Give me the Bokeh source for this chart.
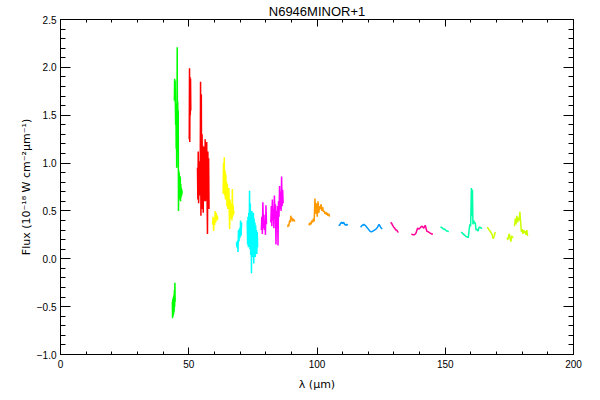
from bokeh.plotting import figure
from bokeh.models import FixedTicker, LinearAxis, CustomJSTickFormatter
from bokeh.embed import file_html
from bokeh.resources import INLINE

# ---------------- data ----------------
green1_x = [43.6, 43.7, 43.8, 43.9, 44.0, 44.1, 44.2, 44.3, 44.4, 44.5, 44.6, 44.7]
green1_y = [-0.45, -0.62, -0.42, -0.60, -0.40, -0.58, -0.38, -0.55, -0.33, -0.50, -0.25, -0.45]

green2_x = [44.4, 44.5, 44.6, 44.7, 44.8, 44.9, 45.0, 45.1, 45.2, 45.3, 45.4, 45.5, 45.6, 45.7,
            45.8, 45.9, 46.0, 46.1, 46.2, 46.3, 46.4, 46.5, 46.6, 46.7, 46.8, 46.9, 47.0, 47.1,
            47.2, 47.3, 47.4]
green2_y = [1.65, 1.88, 1.66, 1.86, 1.60, 1.40, 1.62, 1.15, 1.45, 0.95, 1.30, 2.21, 1.15, 1.64,
            1.20, 1.55, 0.50, 0.92, 0.72, 0.90, 0.62, 0.82, 0.66, 0.86, 0.60, 0.78, 0.64, 0.74,
            0.66, 0.72, 0.68]

red1_x = [50.2, 50.3, 50.4, 50.5, 50.6, 50.7, 50.8]
red1_y = [1.25, 1.99, 1.22, 1.90, 1.50, 1.88, 1.55]

red2_x = [53.4, 53.55, 53.7, 53.85, 54.0, 54.15, 54.3, 54.45, 54.6, 54.75, 54.9, 55.05, 55.2,
          55.35, 55.5, 55.65, 55.8, 55.95, 56.1, 56.25, 56.4, 56.55, 56.7, 56.85, 57.0, 57.15,
          57.3, 57.45, 57.6, 57.75, 57.9]
red2_y = [0.95, 0.62, 1.12, 0.58, 0.98, 0.70, 1.02, 0.66, 1.85, 0.45, 1.72, 0.52, 1.30, 0.62,
          1.18, 0.48, 1.05, 0.60, 1.17, 0.64, 1.25, 0.60, 1.10, 0.70, 1.22, 0.62, 0.26, 1.12,
          0.55, 1.05, 0.52]

yellow1_x = [59.3, 59.5, 59.7, 59.9, 60.1, 60.3, 60.5, 60.7, 60.9, 61.1, 61.3]
yellow1_y = [0.36, 0.44, 0.29, 0.42, 0.35, 0.50, 0.38, 0.48, 0.40, 0.45, 0.41]

yellow2_x = [63.4, 63.55, 63.7, 63.85, 64.0, 64.15, 64.3, 64.45, 64.6, 64.75, 64.9, 65.05, 65.2,
             65.35, 65.5, 65.65, 65.8, 65.95, 66.1, 66.25, 66.4, 66.55, 66.7, 66.85, 67.0, 67.15,
             67.3, 67.45, 67.6]
yellow2_y = [0.68, 1.00, 0.72, 1.06, 0.66, 0.92, 0.62, 0.88, 0.70, 0.80, 0.55, 0.78, 0.52, 0.72,
             0.60, 0.74, 0.48, 0.31, 0.62, 0.45, 0.58, 0.42, 0.55, 0.40, 0.73, 0.44, 0.56, 0.46,
             0.50]

cyan1_x = [68.6, 68.8, 69.0, 69.2, 69.4, 69.6, 69.8, 70.0, 70.2, 70.4, 70.6]
cyan1_y = [0.17, 0.12, 0.19, 0.07, 0.30, 0.18, 0.32, 0.22, 0.40, 0.24, 0.38]

cyan2_x = [72.8, 72.95, 73.1, 73.25, 73.4, 73.55, 73.7, 73.85, 74.0, 74.15, 74.3, 74.45, 74.6,
           74.75, 74.9, 75.05, 75.2, 75.35, 75.5, 75.65, 75.8, 75.95, 76.1, 76.25, 76.4, 76.55,
           76.7, 76.85]
cyan2_y = [0.40, 0.15, 0.44, 0.12, 0.48, 0.18, 0.71, 0.10, 0.58, 0.04, 0.45, -0.15, 0.50, 0.02,
           0.46, 0.08, 0.48, -0.05, 0.42, 0.10, 0.38, 0.02, 0.35, 0.10, 0.30, 0.05, 0.28, 0.12]

magenta1_x = [78.3, 78.5, 78.7, 78.9, 79.1, 79.3, 79.5, 79.7, 79.9, 80.1, 80.3]
magenta1_y = [0.30, 0.44, 0.26, 0.59, 0.32, 0.46, 0.30, 0.40, 0.25, 0.56, 0.36]

magenta2_x = [82.0, 82.2, 82.4, 82.6, 82.8, 83.0, 83.2, 83.4, 83.6, 83.8, 84.0, 84.2, 84.4, 84.6,
              84.8, 85.0, 85.2, 85.4, 85.6, 85.8, 86.0, 86.2, 86.4, 86.6, 86.8]
magenta2_y = [0.38, 0.55, 0.34, 0.62, 0.40, 0.52, 0.32, 0.66, 0.42, 0.57, 0.15, 0.50, 0.36, 0.55,
              0.14, 0.60, 0.44, 0.76, 0.52, 0.70, 0.50, 0.86, 0.55, 0.72, 0.58]

orange1_x = [88.6, 88.8, 89.0, 89.2, 89.4, 89.6, 89.8, 90.0, 90.2, 90.4, 90.6, 90.8, 91.0, 91.2, 91.4]
orange1_y = [0.33, 0.36, 0.34, 0.38, 0.40, 0.38, 0.45, 0.41, 0.43, 0.39, 0.42, 0.40, 0.41, 0.39, 0.40]

orange2_x = [96.8, 97.1, 97.4, 97.7, 98.0, 98.3, 98.6, 98.9, 99.2, 99.5, 99.8, 100.1, 100.4,
             100.7, 101.0, 101.3, 101.6, 101.9, 102.2, 102.5, 102.8, 103.1, 103.4, 103.7, 104.0,
             104.3, 104.6, 104.9]
orange2_y = [0.37, 0.35, 0.38, 0.36, 0.40, 0.38, 0.42, 0.39, 0.63, 0.47, 0.58, 0.44, 0.60, 0.48,
             0.55, 0.52, 0.57, 0.50, 0.54, 0.49, 0.50, 0.47, 0.49, 0.46, 0.48, 0.45, 0.47, 0.44]

blue1_x = [108.4, 108.8, 109.2, 109.6, 110.0, 110.4, 110.8, 111.2, 111.6, 112.0]
blue1_y = [0.35, 0.35, 0.37, 0.38, 0.37, 0.38, 0.36, 0.35, 0.36, 0.35]

blue2_x = [117.0, 117.6, 118.2, 118.8, 119.4, 120.0, 120.6, 121.2, 121.8, 122.4, 123.0, 123.6,
           124.2, 124.8, 125.4]
blue2_y = [0.33, 0.35, 0.36, 0.35, 0.33, 0.31, 0.29, 0.28, 0.29, 0.30, 0.31, 0.33, 0.36, 0.33, 0.31]

pink1_x = [128.7, 129.1, 129.5, 129.9, 130.3, 130.7, 131.1, 131.5, 131.8]
pink1_y = [0.38, 0.37, 0.35, 0.33, 0.32, 0.30, 0.30, 0.28, 0.28]

pink2_x = [136.8, 137.4, 138.0, 138.6, 139.2, 139.8, 140.4, 141.0, 141.6, 142.2, 142.8, 143.4,
           144.0, 144.6, 145.2]
pink2_y = [0.26, 0.25, 0.25, 0.27, 0.32, 0.31, 0.33, 0.34, 0.32, 0.35, 0.29, 0.28, 0.27, 0.26, 0.26]

aqua1_x = [148.1, 148.5, 148.9, 149.3, 149.7, 150.1, 150.5, 150.9, 151.3]
aqua1_y = [0.33, 0.33, 0.32, 0.31, 0.31, 0.30, 0.29, 0.29, 0.28]

aqua2_x = [156.2, 156.6, 157.0, 157.4, 157.8, 158.2, 158.6, 159.0, 159.3, 159.6, 159.9, 160.2,
           160.4, 160.6, 160.8, 161.1, 161.4, 161.7, 162.0, 162.4, 162.8, 163.2, 163.6, 164.0, 164.4]
aqua2_y = [0.28, 0.27, 0.26, 0.25, 0.24, 0.23, 0.23, 0.22, 0.30, 0.36, 0.34, 0.74, 0.45, 0.72,
           0.36, 0.40, 0.37, 0.38, 0.30, 0.31, 0.29, 0.33, 0.33, 0.32, 0.32]

ygreen1_x = [166.3, 166.7, 167.1, 167.5, 167.9, 168.3, 168.7, 169.1, 169.5]
ygreen1_y = [0.33, 0.32, 0.30, 0.29, 0.27, 0.25, 0.21, 0.24, 0.28]

ygreen2_x = [174.1, 174.4, 174.7, 175.0, 175.3, 175.6, 175.9, 176.2, 176.5]
ygreen2_y = [0.22, 0.20, 0.24, 0.26, 0.21, 0.18, 0.24, 0.22, 0.23]

ygreen3_x = [177.0, 177.3, 177.6, 177.9, 178.2, 178.5, 178.8, 179.1, 179.4, 179.7, 180.0, 180.3,
             180.6, 180.9, 181.2, 181.5, 181.8, 182.1]
ygreen3_y = [0.34, 0.42, 0.36, 0.45, 0.38, 0.43, 0.40, 0.49, 0.38, 0.28, 0.31, 0.26, 0.30, 0.27,
             0.29, 0.25, 0.30, 0.24]

x_ticks = [0, 50, 100, 150, 200]
x_tick_labels = ["0", "50", "100", "150", "200"]
y_ticks = [-1.0, -0.5, 0.0, 0.5, 1.0, 1.5, 2.0, 2.5]
y_tick_labels = ["\u22121.0", "\u22120.5", "0.0", "0.5", "1.0", "1.5", "2.0", "2.5"]

title_text = "N6946MINOR+1"
x_label = "\u03bb (\u03bcm)"
y_label = "Flux (10\u207b\u00b9\u2078 W cm\u207b\u00b2\u03bcm\u207b\u00b9)"

segments = [
    (green1_x, green1_y, "#00ff00"),
    (green2_x, green2_y, "#00ff00"),
    (red1_x, red1_y, "#ff0000"),
    (red2_x, red2_y, "#ff0000"),
    (yellow1_x, yellow1_y, "#ffff00"),
    (yellow2_x, yellow2_y, "#ffff00"),
    (cyan1_x, cyan1_y, "#00ffff"),
    (cyan2_x, cyan2_y, "#00ffff"),
    (magenta1_x, magenta1_y, "#ff00ff"),
    (magenta2_x, magenta2_y, "#ff00ff"),
    (orange1_x, orange1_y, "#ff9900"),
    (orange2_x, orange2_y, "#ff9900"),
    (blue1_x, blue1_y, "#0099ff"),
    (blue2_x, blue2_y, "#0099ff"),
    (pink1_x, pink1_y, "#ff0099"),
    (pink2_x, pink2_y, "#ff0099"),
    (aqua1_x, aqua1_y, "#00ffaa"),
    (aqua2_x, aqua2_y, "#00ffaa"),
    (ygreen1_x, ygreen1_y, "#ccff00"),
    (ygreen2_x, ygreen2_y, "#ccff00"),
    (ygreen3_x, ygreen3_y, "#ccff00"),
]

FONT = "Liberation Sans"
LABEL_FONT = "DejaVu Sans"

p = figure(
    frame_width=513, frame_height=335,
    x_range=(0, 200), y_range=(-1.0, 2.5),
    output_backend="svg", toolbar_location=None,
    title=title_text,
    min_border_left=60, min_border_right=19, min_border_top=10, min_border_bottom=30,
)
p.background_fill_color = "white"
p.border_fill_color = "white"
p.outline_line_color = "black"
p.outline_line_width = 1
p.grid.visible = False

p.title.align = "center"
p.title.text_font = FONT
p.title.text_font_size = "13px"
p.title.text_font_style = "normal"
p.title.text_color = "black"
p.title.standoff = 2
p.title.offset = 0

for xs, ys, c in segments:
    p.line(xs, ys, line_color=c, line_width=1.5)

def fmt(ticks, labels):
    return CustomJSTickFormatter(args=dict(t=ticks, l=labels), code="""
        for (let i = 0; i < t.length; i++) { if (Math.abs(t[i] - tick) < 1e-6) return l[i]; }
        return '';
    """)

blank = CustomJSTickFormatter(code="return '';")

x_minor = [v for v in range(0, 201, 10)]
y_minor = [round(-1.0 + 0.1 * i, 2) for i in range(36)]

def style(ax, ticks, minor, major_len, minor_len, show_labels, labels=None):
    ax.ticker = FixedTicker(ticks=ticks, minor_ticks=minor)
    ax.axis_line_color = "black"
    ax.major_tick_line_color = "black"
    ax.minor_tick_line_color = "black"
    ax.major_tick_in = major_len
    ax.major_tick_out = 0
    ax.minor_tick_in = minor_len
    ax.minor_tick_out = 0
    ax.major_label_text_font = FONT
    ax.major_label_text_font_size = "10px"
    ax.major_label_text_color = "black"
    ax.axis_label_text_font = LABEL_FONT
    ax.axis_label_text_font_size = "11px"
    ax.axis_label_text_font_style = "normal"
    ax.axis_label_text_color = "black"
    if show_labels:
        ax.formatter = fmt(ticks, labels)
    else:
        ax.formatter = blank
        ax.major_label_standoff = 0
        ax.major_label_text_font_size = "0px"

xa = p.xaxis[0]
style(xa, x_ticks, x_minor, 7, 3, True, x_tick_labels)
xa.axis_label = x_label
xa.major_label_standoff = 5
xa.axis_label_standoff = 7

ya = p.yaxis[0]
style(ya, y_ticks, y_minor, 10, 5, True, y_tick_labels)
ya.axis_label = y_label
ya.major_label_standoff = 4
ya.axis_label_standoff = 1

top = LinearAxis()
style(top, x_ticks, x_minor, 7, 3, False)
p.add_layout(top, "above")

right = LinearAxis()
style(right, y_ticks, y_minor, 10, 5, False)
p.add_layout(right, "right")

open("out.html", "w").write(file_html(p, INLINE))
